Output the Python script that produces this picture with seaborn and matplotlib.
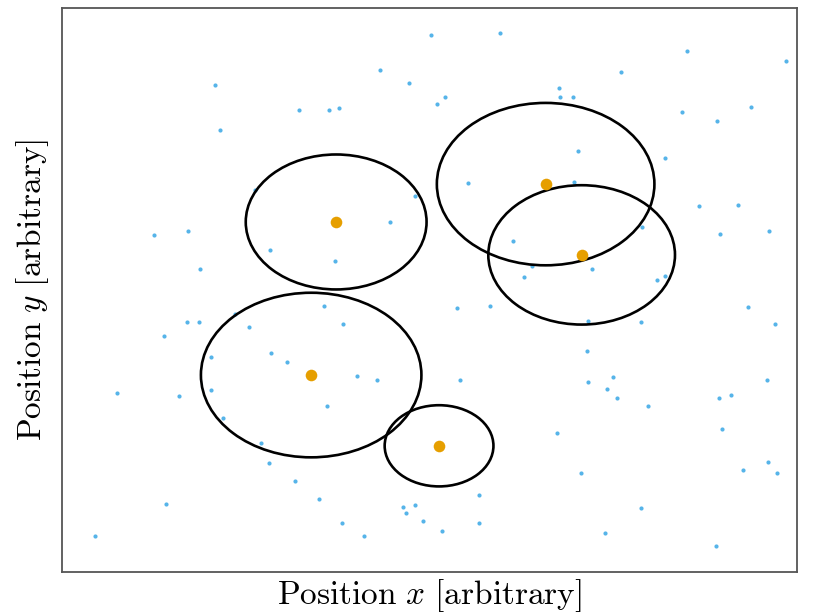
import matplotlib
matplotlib.use("Agg")
import matplotlib.pyplot as plt
from matplotlib.patches import Circle
import seaborn as sns
import pandas as pd

# Background sample points (arbitrary units)
px = [50.2, 59.6, 85.0, 98.5, 43.3, 76.1, 20.8, 47.2, 67.6, 32.2,
      36.3, 37.7, 51.0, 52.1, 67.8, 69.5, 84.4, 93.7, 21.5, 89.1,
      70.2, 82.0, 55.2, 69.7, 26.3, 48.0, 44.6, 12.5, 17.1, 28.3,
      37.1, 18.8, 86.7, 92.0, 78.9, 89.5, 96.2, 61.4, 63.9, 62.9,
      72.1, 81.0, 82.0, 17.0, 18.6, 13.9, 23.5, 25.4, 35.6, 38.2,
      20.3, 28.4, 30.6, 40.1, 42.9, 7.5, 15.9, 20.3, 36.1, 21.9,
      27.1, 28.2, 31.7, 35.0, 14.1, 4.5, 38.1, 41.1, 46.4, 48.0,
      46.8, 49.1, 53.7, 58.2, 71.6, 78.8, 93.3, 97.0, 71.4, 54.1,
      71.6, 75.0, 74.1, 75.5, 79.7, 89.4, 91.0, 95.9, 89.8, 67.3,
      70.6, 92.6, 96.1, 97.3, 56.7, 56.7, 51.7, 78.8, 73.9, 89.0]
py = [97.9, 98.2, 95.0, 93.1, 91.5, 91.1, 88.8, 89.1, 88.2, 84.2,
      84.2, 84.6, 85.3, 86.6, 86.6, 86.6, 83.8, 84.7, 80.6, 82.2,
      76.7, 75.5, 70.9, 71.1, 69.6, 68.5, 63.8, 61.4, 62.1, 58.7,
      56.7, 55.2, 66.7, 66.9, 62.9, 61.6, 62.1, 60.3, 55.8, 53.8,
      55.2, 53.2, 53.9, 45.6, 45.6, 43.0, 47.0, 44.7, 48.5, 45.2,
      39.2, 39.9, 38.3, 35.7, 35.0, 32.6, 32.1, 33.2, 30.3, 28.1,
      23.5, 19.9, 16.6, 13.3, 12.4, 6.6, 8.9, 6.6, 11.8, 12.2,
      10.8, 9.3, 48.1, 48.5, 45.7, 45.6, 48.3, 45.2, 40.3, 35.0,
      34.6, 35.5, 33.4, 31.7, 30.3, 31.7, 32.3, 35.0, 26.1, 25.3,
      18.0, 18.6, 20.0, 18.0, 14.0, 8.9, 7.5, 11.7, 7.1, 4.7]

# Cluster centres and their radii
cx = [37.3, 65.8, 70.7, 33.9, 51.3]
cy = [63.8, 70.7, 57.8, 35.9, 23.0]
radius = [12.3, 14.8, 12.7, 15.0, 7.4]

sns.set_style("white")
plt.rcParams["mathtext.fontset"] = "cm"

fig = plt.figure(figsize=(8.17, 6.16), dpi=100)
ax = fig.add_axes([62 / 817, 44 / 616, 735 / 817, 564 / 616])

pts = pd.DataFrame({"x": px, "y": py})
ctr = pd.DataFrame({"x": cx, "y": cy})
sns.scatterplot(data=pts, x="x", y="y", ax=ax, color="#56B4E9", s=9,
                linewidth=0, zorder=2)
sns.scatterplot(data=ctr, x="x", y="y", ax=ax, color="#E69F00", s=70,
                linewidth=0, zorder=4)
for x, y, r in zip(cx, cy, radius):
    ax.add_patch(Circle((x, y), r, fill=False, edgecolor="black",
                        linewidth=1.9, zorder=3))

ax.set_xlim(0, 100)
ax.set_ylim(0, 102.8)
ax.set_xticks([])
ax.set_yticks([])
for sp in ax.spines.values():
    sp.set_color("#555555")
    sp.set_linewidth(1.3)

ax.set_xlabel(r"$\mathrm{Position}\ x\ [\mathrm{arbitrary}]$", fontsize=24,
              labelpad=4, color="black")
ax.set_ylabel(r"$\mathrm{Position}\ y\ [\mathrm{arbitrary}]$", fontsize=24,
              labelpad=8, color="black")

fig.savefig("out.png", dpi=100)
